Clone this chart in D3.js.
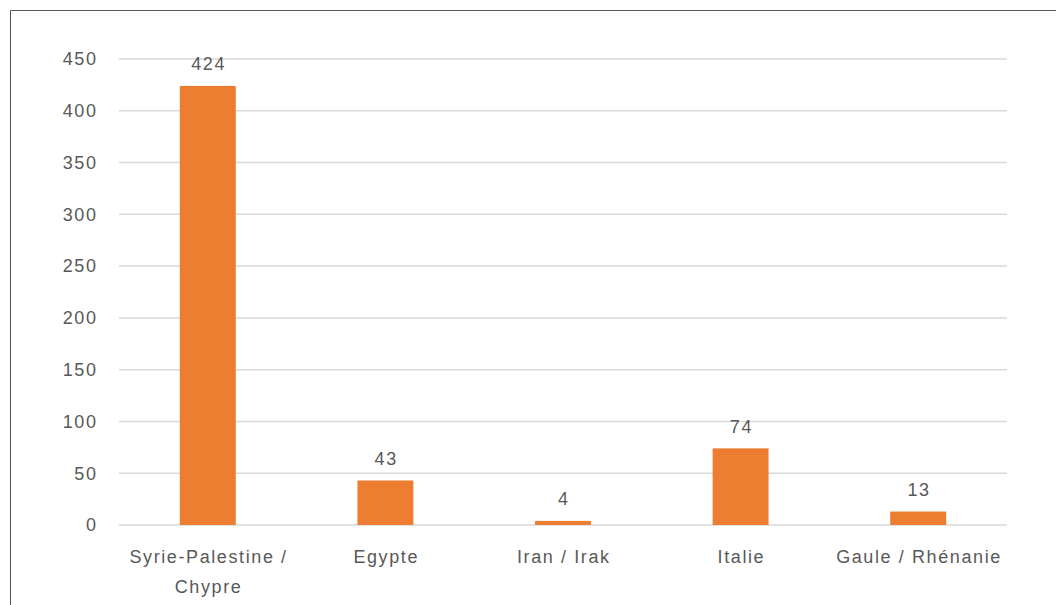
<!DOCTYPE html>
<html><head><meta charset="utf-8">
<script src="https://cdn.jsdelivr.net/npm/d3@7"></script>
<style>body{margin:0;background:#fff}svg{display:block}</style>
</head><body>
<script>
const categories = ["Syrie-Palestine / Chypre", "Egypte", "Iran / Irak", "Italie", "Gaule / Rhénanie"];
const categoryLines = [["Syrie-Palestine /", "Chypre"], ["Egypte"], ["Iran / Irak"], ["Italie"], ["Gaule / Rhénanie"]];
const values = [424, 43, 4, 74, 13];
const yTicks = [0, 50, 100, 150, 200, 250, 300, 350, 400, 450];

const W = 1056, H = 605;
const svg = d3.select("body").append("svg").attr("width", W).attr("height", H);
const font = "'Liberation Sans', Arial, sans-serif";
const txt = "#595959";
const ls = 1.6;

svg.append("path").attr("d", `M${W},10.5H10.5V${H}`).attr("fill", "none").attr("stroke", "#555").attr("stroke-width", 1);

const x = d3.scaleBand().domain(categories).range([119, 1007]).paddingInner(0.685).paddingOuter(0.3425);
const y = d3.scaleLinear().domain([0, 450]).range([525, 59]);

svg.append("g").selectAll("line").data(yTicks).join("line")
  .attr("x1", 119).attr("x2", 1007).attr("y1", d => y(d)).attr("y2", d => y(d))
  .attr("stroke", "#d9d9d9").attr("stroke-width", 1.5);

svg.append("g").selectAll("text").data(yTicks).join("text")
  .attr("x", 96 + ls).attr("y", d => y(d)).attr("dy", "0.35em").attr("text-anchor", "end")
  .attr("letter-spacing", ls)
  .attr("font-family", font).attr("font-size", 18).attr("fill", txt).text(d => d);

svg.append("g").selectAll("rect").data(values).join("rect")
  .attr("x", (d, i) => x(categories[i])).attr("width", x.bandwidth())
  .attr("y", d => y(d)).attr("height", d => y(0) - y(d)).attr("fill", "#ED7D31");

svg.append("g").selectAll("text").data(values).join("text")
  .attr("x", (d, i) => x(categories[i]) + x.bandwidth() / 2 + ls / 2).attr("y", d => y(d) - 22).attr("dy", "0.35em")
  .attr("letter-spacing", ls)
  .attr("text-anchor", "middle").attr("font-family", font).attr("font-size", 18).attr("fill", txt).text(d => d);

const lab = svg.append("g").selectAll("text").data(categories).join("text")
  .attr("x", d => x(d) + x.bandwidth() / 2).attr("y", 557).attr("dy", "0.35em")
  .attr("letter-spacing", ls)
  .attr("text-anchor", "middle").attr("font-family", font).attr("font-size", 18).attr("fill", txt);
lab.each(function(d, i) {
  const t = d3.select(this);
  categoryLines[i].forEach((l, j) => {
    t.append("tspan").attr("x", x(d) + x.bandwidth() / 2 + ls / 2).attr("dy", j === 0 ? "0.35em" : 30).text(l);
  });
});
</script>
</body></html>
